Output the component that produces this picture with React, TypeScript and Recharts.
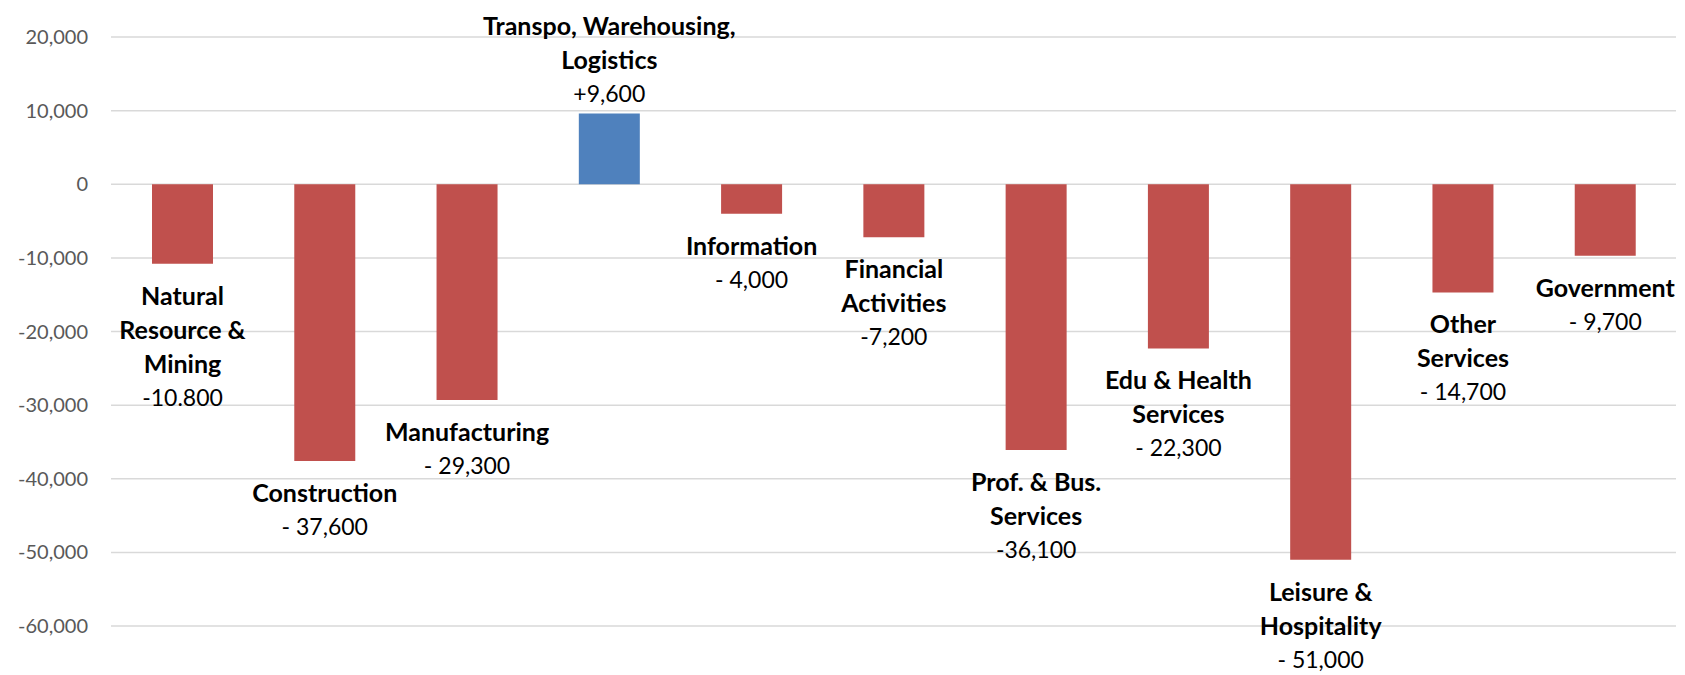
import React from 'react';
import { BarChart, Bar, XAxis, YAxis, CartesianGrid, Cell, LabelList } from 'recharts';

// job change by sector
const sectors = [
    'Natural\nResource &\nMining',
    'Construction',
    'Manufacturing',
    'Transpo, Warehousing,\nLogistics',
    'Information',
    'Financial\nActivities',
    'Prof. & Bus.\nServices',
    'Edu & Health\nServices',
    'Leisure &\nHospitality',
    'Other\nServices',
    'Government',
];
const jobChange = [-10800, -37600, -29300, 9600, -4000, -7200, -36100, -22300, -51000, -14700, -9700];
const changeLabels = ['-10.800', '- 37,600', '- 29,300', '+9,600', '- 4,000', '-7,200', '-36,100', '- 22,300', '- 51,000', '- 14,700', '- 9,700'];
const yTicks = [20000, 10000, 0, -10000, -20000, -30000, -40000, -50000, -60000];

const data = sectors.map((name, i) => ({ name, change: jobChange[i] }));

const colors = {
    loss: '#C0504D',
    gain: '#4F81BD',
};

const SectorLabel = (props: any) => {
    const { x, y, width, height, index } = props;
    const lines = [...sectors[index].split('\n'), changeLabels[index]];
    const nameLines = lines.length - 1;
    const cx = x + width / 2;
    const top = Math.min(y, y + height);
    const bottom = Math.max(y, y + height);
    const step = 34;
    const first = jobChange[index] >= 0 ? top - 21 - (lines.length - 1) * step : bottom + 31;
    return (
        <g>
            {lines.map((t, i) => (
                <text
                    key={i}
                    x={cx}
                    y={first + i * step}
                    textAnchor="middle"
                    dominantBaseline="central"
                    fontSize={i < nameLines ? 25 : 23}
                    fontWeight={i < nameLines ? 700 : 400}
                    fill="#000"
                >
                    {t}
                </text>
            ))}
        </g>
    );
};

export default function App() {
    return (
        <div style={{ position: 'absolute', left: 0, top: 0, fontFamily: 'Lato, sans-serif' }}>
            <BarChart
                width={1685}
                height={675}
                data={data}
                margin={{ top: 37, right: 9, left: 0, bottom: 49 }}
                barSize={61}
            >
                <CartesianGrid vertical={false} stroke="#D9D9D9" strokeWidth={1.5} />
                <XAxis dataKey="name" hide />
                <YAxis
                    width={111}
                    domain={[-60000, 20000]}
                    ticks={yTicks}
                    interval={0}
                    axisLine={false}
                    tickLine={false}
                    tickSize={0}
                    tickMargin={23}
                    tick={{ fill: '#595959', fontSize: 20 }}
                    tickFormatter={(v) => v.toLocaleString('en-US')}
                />
                <Bar dataKey="change" isAnimationActive={false}>
                    {data.map((d, i) => (
                        <Cell key={i} fill={d.change >= 0 ? colors.gain : colors.loss} />
                    ))}
                    <LabelList dataKey="change" content={<SectorLabel />} />
                </Bar>
            </BarChart>
        </div>
    );
}
